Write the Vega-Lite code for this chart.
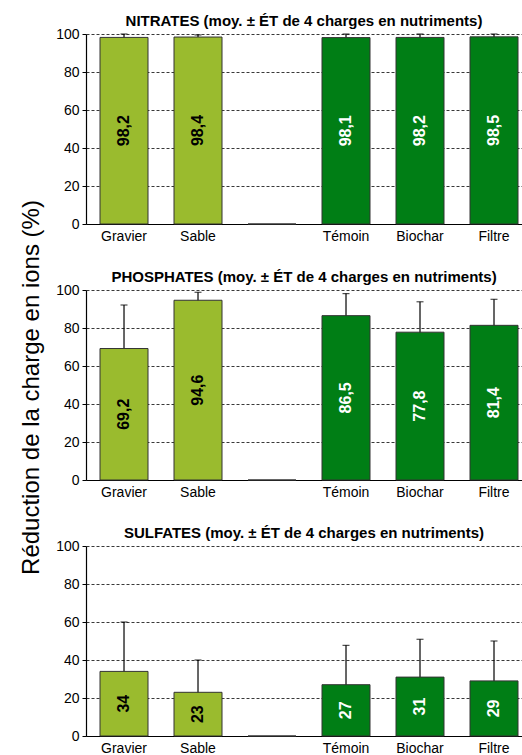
{
  "$schema": "https://vega.github.io/schema/vega-lite/v6.json",
  "background": "white",
  "padding": {"left": 19, "top": 14, "right": 0, "bottom": 0},
  "spacing": 66,
  "bounds": "flush",
  "datasets": {
    "nitrates": [
      {"cat": "Gravier", "grp": "a", "value": 98.2, "sd": 1.8},
      {"cat": "Sable", "grp": "a", "value": 98.4, "sd": 1.1},
      {"cat": " ", "grp": "a", "value": 0, "sd": null},
      {"cat": "Témoin", "grp": "b", "value": 98.1, "sd": 1.9},
      {"cat": "Biochar", "grp": "b", "value": 98.2, "sd": 1.8},
      {"cat": "Filtre", "grp": "b", "value": 98.5, "sd": 1.5}
    ],
    "phosphates": [
      {"cat": "Gravier", "grp": "a", "value": 69.2, "sd": 22.9},
      {"cat": "Sable", "grp": "a", "value": 94.6, "sd": 4.2},
      {"cat": " ", "grp": "a", "value": 0, "sd": null},
      {"cat": "Témoin", "grp": "b", "value": 86.5, "sd": 11.6},
      {"cat": "Biochar", "grp": "b", "value": 77.8, "sd": 16.0},
      {"cat": "Filtre", "grp": "b", "value": 81.4, "sd": 13.7}
    ],
    "sulfates": [
      {"cat": "Gravier", "grp": "a", "value": 34, "sd": 26},
      {"cat": "Sable", "grp": "a", "value": 23, "sd": 17},
      {"cat": " ", "grp": "a", "value": 0, "sd": null},
      {"cat": "Témoin", "grp": "b", "value": 27, "sd": 20.7},
      {"cat": "Biochar", "grp": "b", "value": 31, "sd": 19.9},
      {"cat": "Filtre", "grp": "b", "value": 29, "sd": 21}
    ]
  },
  "vconcat": [
    {
      "title": "NITRATES (moy. ± ÉT de 4 charges en nutriments)",
      "data": {"name": "nitrates"},
      "width": 436, "height": 190,
      "encoding": {
        "x": {"field": "cat", "type": "nominal", "sort": ["Gravier", "Sable", " ", "Témoin", "Biochar", "Filtre"],
              "scale": {"paddingInner": 0.3514, "paddingOuter": 0.1217, "align": 0.778}, "axis": {"title": null}}
      },
      "layer": [
        {"transform": [{"filter": "isValid(datum.sd)"}],
         "mark": {"type": "errorbar", "color": "black", "thickness": 1.2, "ticks": {"size": 7, "color": "black"}},
         "encoding": {"y": {"field": "value", "type": "quantitative", "scale": {"domain": [0, 100], "nice": false}, "axis": {"title": "Réduction de la charge en ions (%)", "titleY": 353}}, "yError": {"field": "sd"}}},
        {"mark": {"type": "bar", "stroke": "#333", "strokeWidth": 1},
         "encoding": {"y": {"field": "value", "type": "quantitative", "scale": {"domain": [0, 100], "nice": false}, "axis": {"title": "Réduction de la charge en ions (%)", "titleY": 353}},
                      "color": {"field": "grp", "type": "nominal", "scale": {"domain": ["a", "b"], "range": ["#9ABB2E", "#007E15"]}, "legend": null}}},
        {"transform": [{"filter": "isValid(datum.sd)"}, {"calculate": "datum.value / 2", "as": "mid"}],
         "mark": {"type": "text", "angle": 270, "fontWeight": "bold", "fontSize": 16, "font": "Liberation Sans", "baseline": "middle", "align": "center"},
         "encoding": {"y": {"field": "mid", "type": "quantitative", "scale": {"domain": [0, 100], "nice": false}, "axis": {"title": "Réduction de la charge en ions (%)", "titleY": 353}},
                      "text": {"field": "value", "type": "quantitative", "format": ".1f"},
                      "color": {"field": "grp", "type": "nominal", "scale": {"domain": ["a", "b"], "range": ["black", "white"]}, "legend": null}}}
      ],
      "resolve": {"scale": {"color": "independent"}}
    },
    {
      "title": "PHOSPHATES (moy. ± ÉT de 4 charges en nutriments)",
      "data": {"name": "phosphates"},
      "width": 436, "height": 190,
      "encoding": {
        "x": {"field": "cat", "type": "nominal", "sort": ["Gravier", "Sable", " ", "Témoin", "Biochar", "Filtre"],
              "scale": {"paddingInner": 0.3514, "paddingOuter": 0.1217, "align": 0.778}, "axis": {"title": null}}
      },
      "layer": [
        {"transform": [{"filter": "isValid(datum.sd)"}],
         "mark": {"type": "errorbar", "color": "black", "thickness": 1.2, "ticks": {"size": 7, "color": "black"}},
         "encoding": {"y": {"field": "value", "type": "quantitative", "scale": {"domain": [0, 100], "nice": false}, "axis": {"title": null}}, "yError": {"field": "sd"}}},
        {"mark": {"type": "bar", "stroke": "#333", "strokeWidth": 1},
         "encoding": {"y": {"field": "value", "type": "quantitative", "scale": {"domain": [0, 100], "nice": false}, "axis": {"title": null}},
                      "color": {"field": "grp", "type": "nominal", "scale": {"domain": ["a", "b"], "range": ["#9ABB2E", "#007E15"]}, "legend": null}}},
        {"transform": [{"filter": "isValid(datum.sd)"}, {"calculate": "datum.value / 2", "as": "mid"}],
         "mark": {"type": "text", "angle": 270, "fontWeight": "bold", "fontSize": 16, "font": "Liberation Sans", "baseline": "middle", "align": "center"},
         "encoding": {"y": {"field": "mid", "type": "quantitative", "scale": {"domain": [0, 100], "nice": false}, "axis": {"title": null}},
                      "text": {"field": "value", "type": "quantitative", "format": ".1f"},
                      "color": {"field": "grp", "type": "nominal", "scale": {"domain": ["a", "b"], "range": ["black", "white"]}, "legend": null}}}
      ],
      "resolve": {"scale": {"color": "independent"}}
    },
    {
      "title": "SULFATES (moy. ± ÉT de 4 charges en nutriments)",
      "data": {"name": "sulfates"},
      "width": 436, "height": 190,
      "encoding": {
        "x": {"field": "cat", "type": "nominal", "sort": ["Gravier", "Sable", " ", "Témoin", "Biochar", "Filtre"],
              "scale": {"paddingInner": 0.3514, "paddingOuter": 0.1217, "align": 0.778}, "axis": {"title": null}}
      },
      "layer": [
        {"transform": [{"filter": "isValid(datum.sd)"}],
         "mark": {"type": "errorbar", "color": "black", "thickness": 1.2, "ticks": {"size": 7, "color": "black"}},
         "encoding": {"y": {"field": "value", "type": "quantitative", "scale": {"domain": [0, 100], "nice": false}, "axis": {"title": null}}, "yError": {"field": "sd"}}},
        {"mark": {"type": "bar", "stroke": "#333", "strokeWidth": 1},
         "encoding": {"y": {"field": "value", "type": "quantitative", "scale": {"domain": [0, 100], "nice": false}, "axis": {"title": null}},
                      "color": {"field": "grp", "type": "nominal", "scale": {"domain": ["a", "b"], "range": ["#9ABB2E", "#007E15"]}, "legend": null}}},
        {"transform": [{"filter": "isValid(datum.sd)"}, {"calculate": "datum.value / 2", "as": "mid"}],
         "mark": {"type": "text", "angle": 270, "fontWeight": "bold", "fontSize": 16, "font": "Liberation Sans", "baseline": "middle", "align": "center"},
         "encoding": {"y": {"field": "mid", "type": "quantitative", "scale": {"domain": [0, 100], "nice": false}, "axis": {"title": null}},
                      "text": {"field": "value", "type": "quantitative", "format": ".0f"},
                      "color": {"field": "grp", "type": "nominal", "scale": {"domain": ["a", "b"], "range": ["black", "white"]}, "legend": null}}}
      ],
      "resolve": {"scale": {"color": "independent"}}
    }
  ],
  "config": {
    "locale": {"number": {"decimal": ",", "thousands": " ", "grouping": [3], "currency": ["", " €"]}},
    "view": {"stroke": null},
    "font": "Liberation Sans",
    "title": {"font": "Liberation Sans", "fontSize": 15, "fontWeight": "bold", "color": "black", "anchor": "middle", "offset": -2},
    "axis": {"labelFont": "Liberation Sans", "labelFontSize": 14, "labelColor": "black", "domainColor": "black", "tickColor": "black",
             "titleFont": "Liberation Sans", "titleFontWeight": "normal", "titleColor": "black", "titleFontSize": 24},
    "axisY": {"values": [0, 20, 40, 60, 80, 100], "gridDash": [3, 2], "gridColor": "#222", "gridOpacity": 1, "gridWidth": 0.9,
              "tickSize": 4, "labelPadding": 3, "titlePadding": 12, "domainWidth": 1.2},
    "axisX": {"ticks": false, "labelAngle": 0, "labelPadding": 5, "domainWidth": 1.2, "grid": false}
  }
}
